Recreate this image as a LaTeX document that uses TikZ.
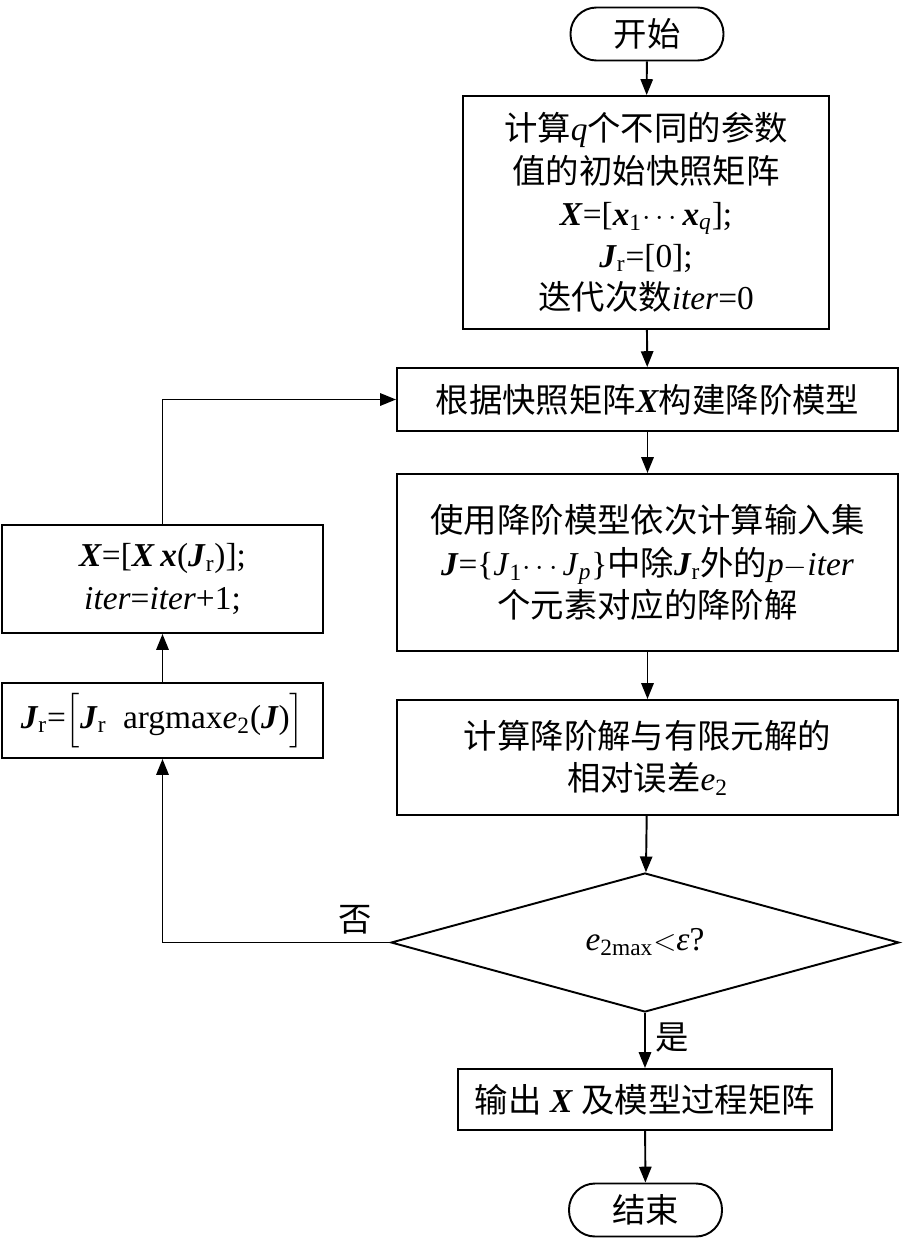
\documentclass[tikz,border=0pt]{standalone}
\usepackage{amsmath}
\usepackage{fontspec}
\setmainfont{Liberation Serif}
\newfontfamily\zhfont{Noto Sans CJK SC}
\usetikzlibrary{arrows.meta, positioning, shapes.geometric}
\newcommand{\zh}[1]{{\zhfont #1}}
\newcommand{\bv}[1]{\textbf{\textit{#1}}}

\begin{document}
\begin{tikzpicture}[
    font=\fontsize{19}{24}\selectfont,
    line width=1.1pt,
    box/.style={draw, align=center, inner sep=2pt},
    term/.style={draw, rounded corners=0.52cm, minimum width=3.06cm, minimum height=1.06cm},
    cond/.style={draw, diamond, aspect=3.6, inner sep=0pt, minimum width=10.16cm, minimum height=2.78cm},
    arr/.style={-{Triangle[length=9pt, width=7pt]}}
  ]
    \useasboundingbox (0,0) rectangle (18.08,-24.82);
    \node[term] (start) at (12.94,-0.68) {\zh{开始}};
    \node[box, minimum width=7.32cm, minimum height=4.66cm] (init) at (12.92,-4.25)
      {\zh{计算}\textit{q}\zh{个不同的参数}\\\zh{值的初始快照矩阵}\\\bv{X}=[\bv{x}\textsubscript{1}$\cdots$\bv{x}\textsubscript{\textit{q}}];\\\bv{J}\textsubscript{r}=[0];\\\zh{迭代次数}\textit{iter}=0};
    \node[box, minimum width=10.02cm, minimum height=1.26cm] (rom) at (12.95,-7.99)
      {\zh{根据快照矩阵}\bv{X}\zh{构建降阶模型}};
    \node[box, minimum width=10.02cm, minimum height=3.54cm] (solve) at (12.95,-11.25)
      {\zh{使用降阶模型依次计算输入集}\\\bv{J}=\{\textit{J}\textsubscript{1}$\cdots$\textit{J}\textsubscript{\textit{p}}\}\zh{中除}\bv{J}\textsubscript{r}\zh{外的}\textit{p}$-$\textit{iter}\\\zh{个元素对应的降阶解}};
    \node[box, minimum width=10.02cm, minimum height=2.3cm] (err) at (12.95,-15.15)
      {\zh{计算降阶解与有限元解的}\\\zh{相对误差}\textit{e}\textsubscript{2}};
    \node[cond] (check) at (12.9,-18.85) {\textit{e}\textsubscript{2max}$<$\textit{ε}?};
    \node[box, minimum width=7.48cm, minimum height=1.22cm] (out) at (12.9,-21.99)
      {\zh{输出} \bv{X} \zh{及模型过程矩阵}};
    \node[term] (stop) at (12.91,-24.2) {\zh{结束}};
    \node[box, minimum width=6.42cm, minimum height=2.16cm] (upd) at (3.25,-11.58)
      {\bv{X}=[\bv{X}\,\bv{x}(\bv{J}\textsubscript{r})];\\\textit{iter}=\textit{iter}+1;};
    \node[box, minimum width=6.42cm, minimum height=1.5cm] (add) at (3.25,-14.41)
      {\bv{J}\textsubscript{r}=$\Big[$\bv{J}\textsubscript{r}\ \ argmax\textit{e}\textsubscript{2}(\bv{J})$\Big]$};
    \node (no) at (7.1,-18.4) {\zh{否}};
    \node (yes) at (13.44,-20.74) {\zh{是}};

    \draw[arr] (start) -- (init);
    \draw[arr] (init) -- (rom);
    \draw[arr] (rom) -- (solve);
    \draw[arr] (solve) -- (err);
    \draw[arr] (err) -- (check);
    \draw[arr] (check) -- (check |- out.north);
    \draw[arr] (out) -- (stop);
    \draw[arr] (check.west) -| (add.south);
    \draw[arr] (add) -- (upd);
    \draw[arr] (upd.north) |- (rom.west);
  \end{tikzpicture}
\end{document}
